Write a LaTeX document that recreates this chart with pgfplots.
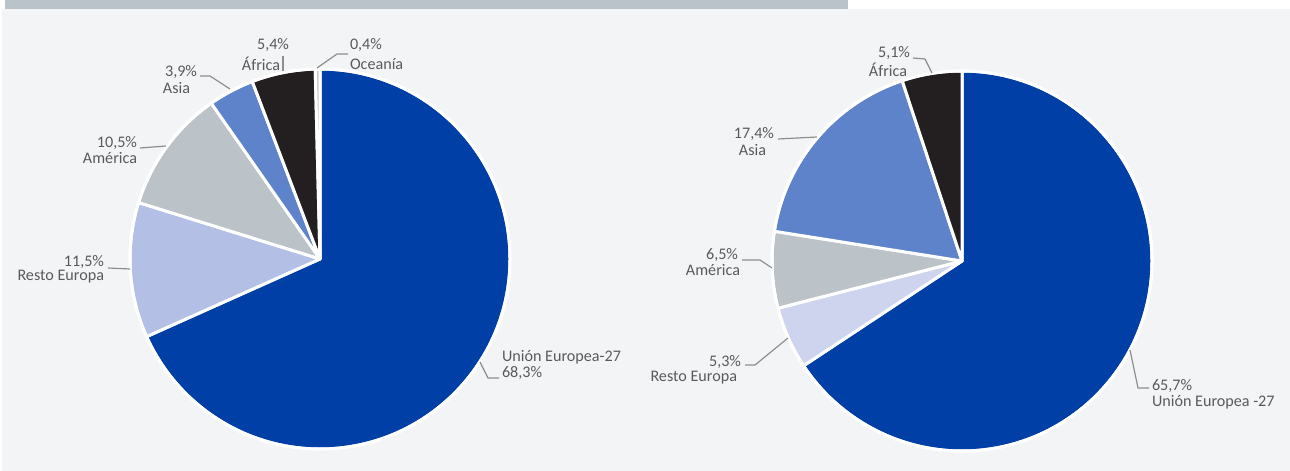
\documentclass[border=0pt]{standalone}
\usepackage{pgfplots}
\usepackage{pgfplotstable}
\pgfplotsset{compat=1.18}
\usepackage{fontspec}
\setmainfont{Carlito}
\definecolor{ue}{HTML}{003FA5}
\definecolor{restoA}{HTML}{B3BFE4}
\definecolor{restoB}{HTML}{CED4EE}
\definecolor{amer}{HTML}{BCC3C8}
\definecolor{asia}{HTML}{5F83CA}
\definecolor{afr}{HTML}{231F20}
\definecolor{oce}{HTML}{C9CBCE}
\definecolor{panel}{HTML}{F3F4F6}
\definecolor{strip}{HTML}{BBC3CA}
\definecolor{txt}{HTML}{5A5A5A}
\definecolor{leader}{HTML}{8E8E8E}
\tikzset{lbl/.style={font=\fontsize{8.1}{9}\selectfont, text=txt, inner sep=0pt, outer sep=0pt}}

\pgfplotstableread{
label value color
UE 68.3 ue
RestoEuropa 11.5 restoA
America 10.5 amer
Asia 3.9 asia
Africa 5.4 afr
Oceania 0.4 oce
}\pieA

\pgfplotstableread{
label value color
UE 65.7 ue
RestoEuropa 5.3 restoB
America 6.5 amer
Asia 17.4 asia
Africa 5.1 afr
}\pieB

% #1 table, #2 cx, #3 cy (pixel coords), #4 radius
\newcommand\pieslices[4]{%
  \pgfplotstablegetrowsof{#1}%
  \pgfmathtruncatemacro\lastrow{\pgfplotsretval-1}%
  \def\angA{90}%
  \pgfplotsforeachungrouped \i in {0,...,\lastrow}{%
    \pgfplotstablegetelem{\i}{value}\of{#1}%
    \pgfmathsetmacro\angB{\angA-3.6*\pgfplotsretval}%
    \pgfplotstablegetelem{\i}{color}\of{#1}%
    \let\col\pgfplotsretval
    \edef\tmp{\noexpand\fill[fill=\col, draw=white, line width=1.5bp, line join=round]
      (axis cs:#2,#3) -- ++(\angA:#4) arc[start angle=\angA, end angle=\angB, radius=#4] -- cycle;}%
    \tmp
    \let\angA\angB
  }%
}

\begin{document}
\begin{tikzpicture}
\begin{axis}[x=0.5bp, y=0.5bp, xmin=0, xmax=1290, ymin=0, ymax=471, y dir=reverse,
  hide axis, clip=false, scale only axis]
% background
\fill[white] (axis cs:0,0) rectangle (axis cs:1290,471);
\fill[panel] (axis cs:2,9) rectangle (axis cs:1290,471);
\fill[strip] (axis cs:5,0) rectangle (axis cs:848,9);
\coordinate (BL) at (axis cs:0,471);
\coordinate (TR) at (axis cs:1290,0);

\pieslices{\pieA}{320}{259}{95bp}
\pieslices{\pieB}{962}{261}{95bp}
\draw[white, line width=1.5bp] (axis cs:320,259) circle[radius=95bp];
\draw[white, line width=1.5bp] (axis cs:962,261) circle[radius=95bp];

% leaders left
\draw[leader, line width=0.6bp] (axis cs:283,56) -- (axis cs:283,71);
\draw[leader, line width=0.6bp] (axis cs:317,68) -- (axis cs:337,54) -- (axis cs:348,54);
\draw[leader, line width=0.6bp] (axis cs:200,76) -- (axis cs:210,76) -- (axis cs:230,89);
\draw[leader, line width=0.6bp] (axis cs:140,148) -- (axis cs:166,146);
\draw[leader, line width=0.6bp] (axis cs:108,268) -- (axis cs:130,269);
\draw[leader, line width=0.6bp] (axis cs:480,362) -- (axis cs:488,378) -- (axis cs:499,378);
% leaders right
\draw[leader, line width=0.6bp] (axis cs:913,58) -- (axis cs:925,59) -- (axis cs:932,73);
\draw[leader, line width=0.6bp] (axis cs:778,139) -- (axis cs:817,137);
\draw[leader, line width=0.6bp] (axis cs:742,260) -- (axis cs:760,260) -- (axis cs:772,268);
\draw[leader, line width=0.6bp] (axis cs:745,365) -- (axis cs:755,365) -- (axis cs:788,338);
\draw[leader, line width=0.6bp] (axis cs:1130,350) -- (axis cs:1138,388) -- (axis cs:1149,388);

% labels left
\node[lbl, anchor=east] at (axis cs:289,45) {5,4\%};
\node[lbl, anchor=east] at (axis cs:280,64) {África};
\node[lbl, anchor=west] at (axis cs:350,45) {0,4\%};
\node[lbl, anchor=west] at (axis cs:350,64) {Oceanía};
\node[lbl, anchor=east] at (axis cs:197,72) {3,9\%};
\node[lbl, anchor=east] at (axis cs:190,88) {Asia};
\node[lbl, anchor=east] at (axis cs:137,143) {10,5\%};
\node[lbl, anchor=east] at (axis cs:137,158) {América};
\node[lbl, anchor=east] at (axis cs:104,262) {11,5\%};
\node[lbl, anchor=east] at (axis cs:104,277) {Resto Europa};
\node[lbl, anchor=west] at (axis cs:502,357) {Unión Europea-27};
\node[lbl, anchor=west] at (axis cs:502,373) {68,3\%};
% labels right
\node[lbl, anchor=east] at (axis cs:910,53) {5,1\%};
\node[lbl, anchor=east] at (axis cs:907,70) {África};
\node[lbl, anchor=east] at (axis cs:774,134) {17,4\%};
\node[lbl, anchor=east] at (axis cs:766,150) {Asia};
\node[lbl, anchor=east] at (axis cs:738,255) {6,5\%};
\node[lbl, anchor=east] at (axis cs:740,270) {América};
\node[lbl, anchor=east] at (axis cs:741,362) {5,3\%};
\node[lbl, anchor=east] at (axis cs:737,378) {Resto Europa};
\node[lbl, anchor=west] at (axis cs:1152,386) {65,7\%};
\node[lbl, anchor=west] at (axis cs:1152,402) {Unión Europea -27};
\end{axis}
\pgfresetboundingbox
\path[use as bounding box] (BL) rectangle (TR);
\end{tikzpicture}
\end{document}
